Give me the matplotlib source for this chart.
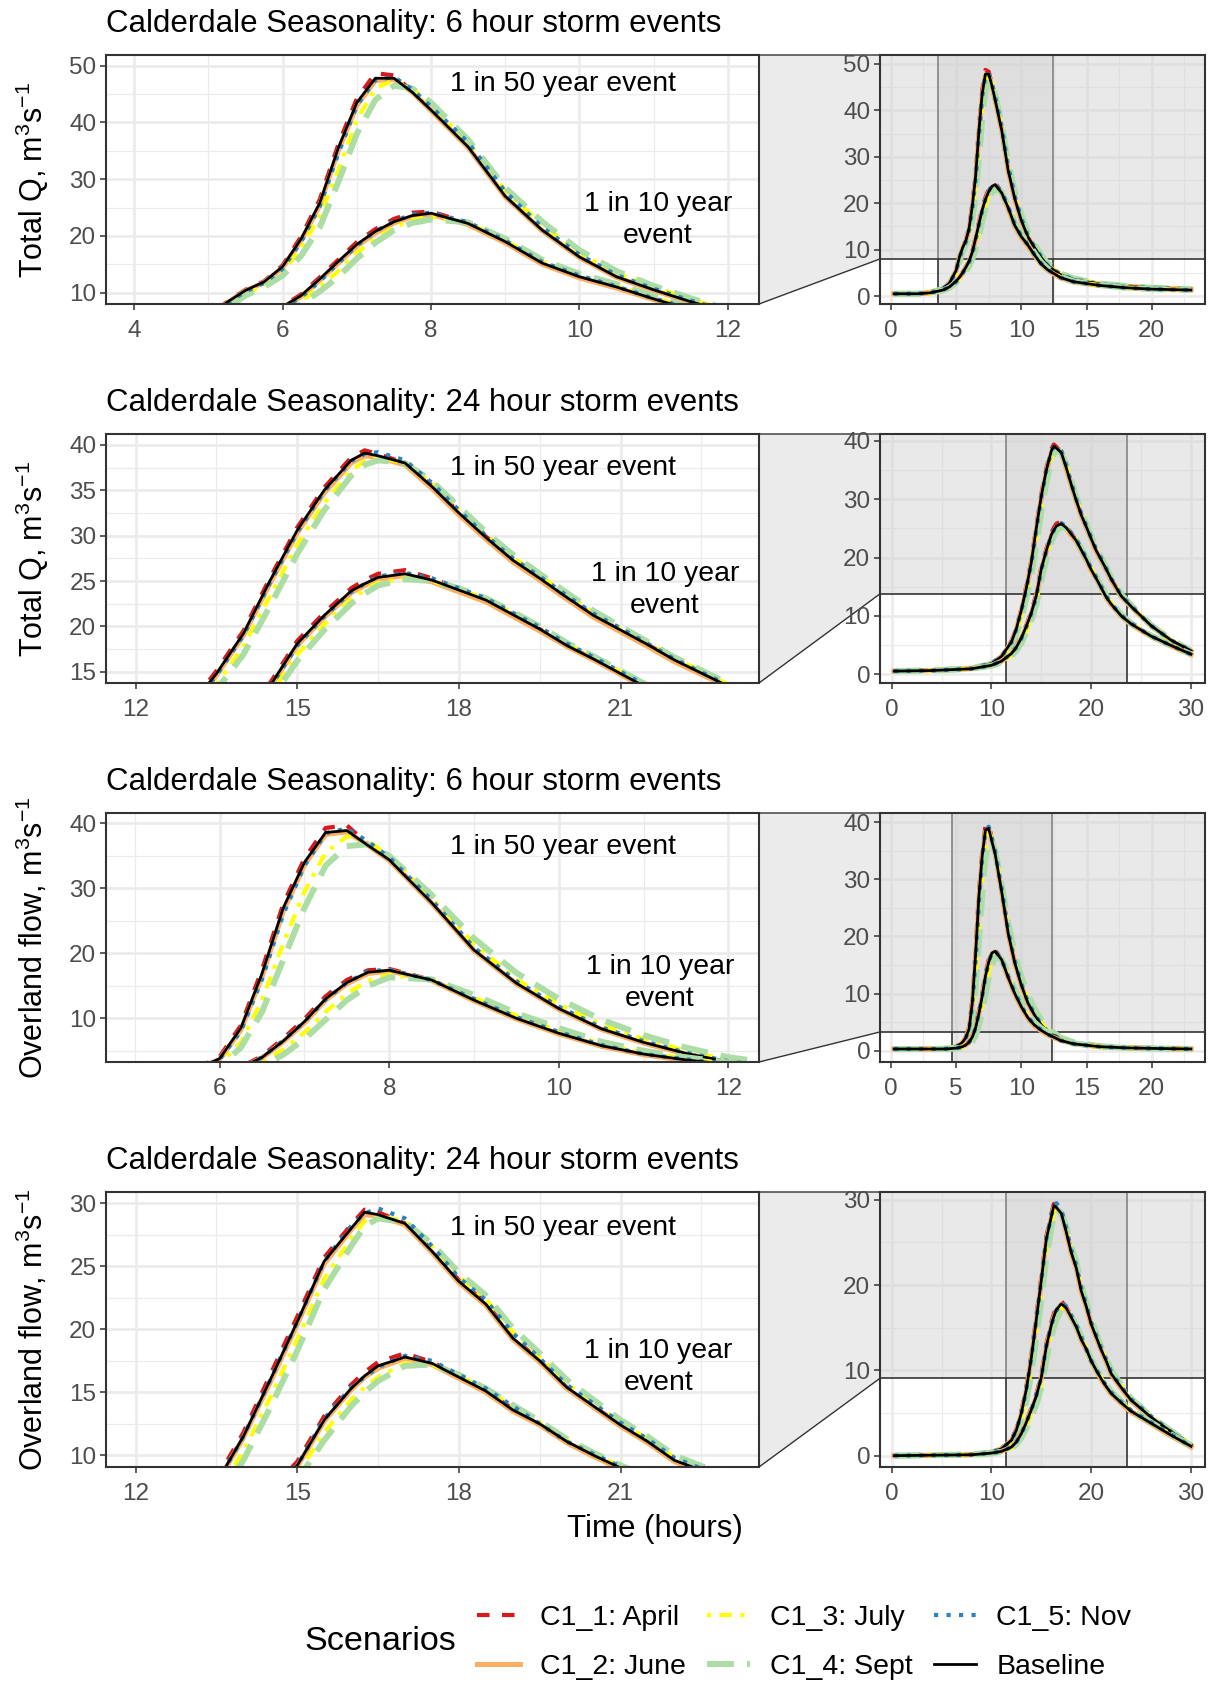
import numpy as np
import matplotlib.pyplot as plt
from matplotlib.lines import Line2D
from matplotlib.patches import Polygon
from matplotlib.ticker import MultipleLocator
from matplotlib.transforms import blended_transform_factory

plt.rcParams['font.family'] = ['Liberation Sans', 'DejaVu Sans']
plt.rcParams['mathtext.fontset'] = 'custom'
plt.rcParams['mathtext.rm'] = 'Liberation Sans'
plt.rcParams['mathtext.it'] = 'Liberation Sans:italic'
plt.rcParams['mathtext.bf'] = 'Liberation Sans:bold'

W, H = 1213, 1682

scenarios = ["C1_1: April", "C1_2: June", "C1_3: July", "C1_4: Sept", "C1_5: Nov", "Baseline"]

# time (hours) of the model output used for each storm length
t6 = [0.25, 2, 3, 4, 4.5, 5, 5.25, 5.5, 5.75, 6, 6.25, 6.5, 6.75, 7, 7.25, 7.5,
      7.75, 8, 8.5, 9, 9.5, 10, 10.5, 11, 11.5, 12, 13, 14, 16, 18, 20, 23]
t24 = [0.25, 4, 8, 10, 11, 12, 12.5, 13, 13.5, 14, 14.5, 15, 15.5, 16, 16.25, 16.5,
       17, 17.5, 18, 18.5, 19, 19.5, 20, 20.5, 21, 21.5, 22, 23, 24, 26, 28, 30]

# Total Q, 6 hour storm, 1 in 50 year
totq6_50 = {
    "C1_1: April": [0.5, 0.5, 0.8, 1.6, 2.9, 5.6, 8.4, 10.5, 12.0, 14.8, 19.9, 26.4, 36.1, 44.2, 48.7, 48.3, 45.5, 42.1, 35.6, 26.9, 20.9, 16.2, 12.7, 10.4, 8.3, 6.5, 4.5, 3.5, 2.6, 2.1, 1.8, 1.5],
    "C1_2: June": [0.5, 0.5, 0.8, 1.6, 2.8, 5.4, 8.2, 10.3, 11.8, 14.4, 19.2, 25.4, 35.0, 43.0, 47.4, 47.6, 45.3, 42.1, 35.6, 26.9, 20.9, 16.2, 12.7, 10.4, 8.3, 6.5, 4.6, 3.6, 2.6, 2.1, 1.8, 1.5],
    "C1_3: July": [0.5, 0.5, 0.8, 1.5, 2.6, 5.0, 7.6, 9.8, 11.3, 13.6, 17.8, 23.5, 31.5, 40.5, 46.0, 47.5, 46.0, 43.0, 36.5, 28.0, 22.0, 17.0, 13.5, 11.0, 8.8, 6.9, 4.8, 3.7, 2.7, 2.1, 1.8, 1.5],
    "C1_4: Sept": [0.5, 0.5, 0.8, 1.5, 2.5, 4.8, 7.3, 9.5, 11.0, 13.0, 16.5, 21.5, 29.5, 38.0, 44.0, 46.5, 46.0, 43.5, 37.0, 28.5, 22.5, 17.5, 13.8, 11.2, 9.0, 7.1, 4.9, 3.8, 2.7, 2.2, 1.8, 1.5],
    "C1_5: Nov": [0.5, 0.5, 0.8, 1.6, 2.7, 5.3, 8.1, 10.2, 11.7, 14.2, 19.0, 25.2, 34.5, 43.0, 47.5, 48.0, 45.8, 42.8, 36.5, 27.8, 21.5, 16.7, 13.1, 10.7, 8.6, 6.7, 4.7, 3.6, 2.6, 2.1, 1.8, 1.5],
    "Baseline": [0.5, 0.5, 0.8, 1.6, 2.8, 5.5, 8.3, 10.4, 11.9, 14.6, 19.5, 25.8, 35.5, 43.5, 47.8, 47.8, 45.3, 42.2, 35.7, 27.0, 21.0, 16.3, 12.8, 10.5, 8.4, 6.6, 4.6, 3.6, 2.6, 2.1, 1.8, 1.5],
}
# Total Q, 6 hour storm, 1 in 10 year
totq6_10 = {
    "C1_1: April": [0.5, 0.5, 0.7, 1.3, 2.0, 3.2, 4.1, 5.1, 6.3, 7.6, 9.7, 12.7, 15.8, 18.9, 21.2, 23.0, 24.1, 24.3, 22.3, 18.9, 15.1, 12.7, 10.9, 8.8, 7.0, 5.7, 4.0, 3.1, 2.3, 1.8, 1.5, 1.3],
    "C1_2: June": [0.5, 0.5, 0.7, 1.3, 2.0, 3.1, 3.9, 4.9, 6.1, 7.4, 9.3, 12.2, 15.2, 18.2, 20.5, 22.3, 23.4, 23.8, 22.0, 18.8, 15.0, 12.6, 10.8, 8.8, 6.9, 5.6, 3.9, 3.0, 2.3, 1.8, 1.5, 1.3],
    "C1_3: July": [0.5, 0.5, 0.7, 1.2, 1.9, 3.0, 3.7, 4.6, 5.6, 6.8, 8.5, 11.0, 13.8, 17.0, 19.5, 21.5, 22.8, 23.4, 22.3, 19.2, 15.5, 13.0, 11.2, 9.1, 7.2, 5.8, 4.1, 3.1, 2.3, 1.8, 1.5, 1.3],
    "C1_4: Sept": [0.5, 0.5, 0.7, 1.2, 1.8, 2.9, 3.6, 4.4, 5.3, 6.4, 8.0, 10.2, 12.8, 16.0, 18.8, 21.0, 22.3, 22.9, 22.4, 19.5, 15.8, 13.3, 11.5, 9.4, 7.4, 6.0, 4.2, 3.2, 2.4, 1.8, 1.5, 1.3],
    "C1_5: Nov": [0.5, 0.5, 0.7, 1.3, 2.0, 3.1, 3.9, 4.9, 6.0, 7.3, 9.2, 12.0, 15.2, 18.3, 20.8, 22.6, 23.8, 24.1, 22.4, 19.2, 15.4, 13.0, 11.1, 9.0, 7.1, 5.8, 4.0, 3.1, 2.3, 1.8, 1.5, 1.3],
    "Baseline": [0.5, 0.5, 0.7, 1.3, 2.0, 3.2, 4.0, 5.0, 6.2, 7.5, 9.5, 12.4, 15.5, 18.5, 20.8, 22.5, 23.6, 24.0, 22.2, 19.0, 15.2, 12.8, 11.0, 8.9, 7.0, 5.7, 4.0, 3.1, 2.3, 1.8, 1.5, 1.3],
}
# Total Q, 24 hour storm, 1 in 50 year
totq24_50 = {
    "C1_1: April": [0.5, 0.6, 1.0, 1.8, 3.0, 5.6, 7.9, 11.2, 15.1, 19.5, 25.4, 30.9, 35.3, 38.6, 39.4, 39.0, 38.0, 35.5, 32.6, 29.9, 27.4, 25.3, 23.2, 21.2, 19.6, 18.0, 16.3, 13.4, 11.6, 8.3, 5.8, 4.0],
    "C1_2: June": [0.5, 0.6, 1.0, 1.8, 3.0, 5.4, 7.7, 10.9, 14.6, 19.0, 24.8, 30.3, 34.7, 38.0, 38.8, 38.6, 37.8, 35.2, 32.3, 29.6, 27.1, 25.1, 23.0, 21.0, 19.4, 17.8, 16.1, 13.3, 11.5, 8.2, 5.7, 3.9],
    "C1_3: July": [0.5, 0.6, 1.0, 1.7, 2.8, 5.0, 7.1, 10.1, 13.6, 17.8, 23.4, 29.0, 33.6, 37.2, 38.2, 38.6, 38.0, 35.8, 32.9, 30.1, 27.6, 25.6, 23.5, 21.5, 19.8, 18.2, 16.5, 13.6, 11.7, 8.3, 5.8, 4.1],
    "C1_4: Sept": [0.5, 0.6, 1.0, 1.7, 2.7, 4.8, 6.8, 9.6, 13.0, 16.9, 22.3, 28.0, 32.8, 36.6, 37.8, 38.3, 38.0, 36.0, 33.2, 30.4, 27.9, 25.8, 23.7, 21.7, 20.0, 18.3, 16.6, 13.7, 11.8, 8.4, 5.9, 4.0],
    "C1_5: Nov": [0.5, 0.6, 1.0, 1.8, 3.0, 5.4, 7.7, 10.9, 14.6, 19.0, 24.9, 30.4, 34.9, 38.2, 39.0, 39.2, 38.3, 35.8, 32.8, 30.0, 27.5, 25.5, 23.4, 21.4, 19.8, 18.1, 16.4, 13.5, 11.7, 8.3, 5.8, 4.0],
    "Baseline": [0.5, 0.6, 1.0, 1.8, 3.0, 5.5, 7.8, 11.0, 14.8, 19.2, 25.1, 30.6, 35.0, 38.3, 39.1, 38.8, 38.0, 35.4, 32.5, 29.8, 27.3, 25.3, 23.2, 21.2, 19.6, 18.0, 16.3, 13.4, 11.6, 8.3, 5.8, 4.0],
}
# Total Q, 24 hour storm, 1 in 10 year
totq24_10 = {
    "C1_1: April": [0.5, 0.6, 0.9, 1.5, 2.2, 3.6, 4.7, 6.4, 8.4, 10.7, 13.8, 18.4, 21.5, 24.2, 25.1, 25.8, 26.2, 25.3, 24.1, 22.9, 21.3, 19.7, 17.9, 16.4, 14.8, 13.2, 12.0, 10.0, 8.6, 6.5, 4.9, 3.4],
    "C1_2: June": [0.5, 0.6, 0.9, 1.5, 2.2, 3.5, 4.6, 6.1, 8.1, 10.4, 13.3, 17.9, 21.0, 23.7, 24.5, 25.2, 25.6, 24.9, 23.8, 22.7, 21.1, 19.5, 17.8, 16.3, 14.7, 13.1, 11.9, 9.9, 8.5, 6.4, 4.8, 3.3],
    "C1_3: July": [0.5, 0.6, 0.9, 1.4, 2.1, 3.2, 4.2, 5.6, 7.5, 9.7, 12.5, 16.9, 20.2, 23.0, 24.0, 24.8, 25.3, 25.0, 24.1, 23.0, 21.5, 19.9, 18.1, 16.6, 15.0, 13.4, 12.2, 10.1, 8.7, 6.5, 4.9, 3.5],
    "C1_4: Sept": [0.5, 0.6, 0.9, 1.4, 2.0, 3.1, 4.0, 5.3, 7.1, 9.2, 11.9, 16.2, 19.6, 22.5, 23.6, 24.5, 25.2, 25.0, 24.2, 23.1, 21.6, 20.0, 18.2, 16.7, 15.1, 13.5, 12.3, 10.2, 8.7, 6.6, 4.9, 3.4],
    "C1_5: Nov": [0.5, 0.6, 0.9, 1.5, 2.2, 3.5, 4.6, 6.1, 8.1, 10.4, 13.3, 17.9, 21.1, 23.8, 24.7, 25.5, 25.9, 25.3, 24.2, 23.1, 21.5, 19.9, 18.1, 16.6, 15.0, 13.4, 12.1, 10.1, 8.7, 6.5, 4.9, 3.4],
    "Baseline": [0.5, 0.6, 0.9, 1.5, 2.2, 3.5, 4.6, 6.2, 8.2, 10.5, 13.5, 18.1, 21.2, 23.9, 24.7, 25.4, 25.8, 25.1, 24.0, 22.9, 21.3, 19.7, 17.9, 16.4, 14.8, 13.2, 12.0, 10.0, 8.6, 6.5, 4.9, 3.4],
}
# Overland flow, 6 hour storm, 1 in 50 year
ovl6_50 = {
    "C1_1: April": [0.3, 0.3, 0.3, 0.35, 0.45, 0.7, 1.0, 1.5, 2.4, 4.1, 8.9, 17.5, 27.6, 34.6, 39.3, 39.7, 36.8, 34.5, 27.8, 20.4, 15.3, 11.4, 8.3, 6.2, 4.5, 3.3, 2.0, 1.3, 0.7, 0.5, 0.4, 0.3],
    "C1_2: June": [0.3, 0.3, 0.3, 0.35, 0.45, 0.7, 1.0, 1.45, 2.25, 3.7, 8.2, 16.4, 26.5, 33.6, 38.3, 38.7, 36.6, 34.3, 27.7, 20.4, 15.3, 11.4, 8.3, 6.2, 4.5, 3.2, 1.9, 1.3, 0.7, 0.5, 0.4, 0.3],
    "C1_3: July": [0.3, 0.3, 0.3, 0.35, 0.4, 0.6, 0.9, 1.3, 1.9, 3.0, 6.3, 12.8, 21.5, 29.5, 35.5, 38.0, 37.3, 35.0, 28.5, 21.5, 16.0, 12.2, 9.0, 6.8, 5.0, 3.6, 2.1, 1.4, 0.7, 0.5, 0.4, 0.3],
    "C1_4: Sept": [0.3, 0.3, 0.3, 0.35, 0.4, 0.6, 0.8, 1.2, 1.7, 2.6, 5.5, 11.0, 19.0, 27.0, 33.5, 36.5, 36.8, 35.0, 29.0, 22.3, 17.0, 13.0, 9.8, 7.4, 5.5, 4.0, 2.3, 1.5, 0.8, 0.5, 0.4, 0.3],
    "C1_5: Nov": [0.3, 0.3, 0.3, 0.35, 0.45, 0.7, 1.0, 1.5, 2.3, 3.7, 8.0, 16.0, 26.0, 33.5, 38.5, 39.2, 37.2, 34.8, 28.2, 20.9, 15.7, 11.8, 8.6, 6.5, 4.7, 3.4, 2.0, 1.3, 0.7, 0.5, 0.4, 0.3],
    "Baseline": [0.3, 0.3, 0.3, 0.35, 0.45, 0.7, 1.0, 1.5, 2.3, 3.8, 8.5, 16.9, 27.0, 34.0, 38.6, 38.9, 36.6, 34.4, 27.8, 20.5, 15.4, 11.5, 8.4, 6.3, 4.6, 3.3, 2.0, 1.3, 0.7, 0.5, 0.4, 0.3],
}
# Overland flow, 6 hour storm, 1 in 10 year
ovl6_10 = {
    "C1_1: April": [0.3, 0.3, 0.3, 0.3, 0.35, 0.45, 0.55, 0.7, 1.05, 1.55, 2.5, 4.2, 6.9, 9.9, 13.4, 15.9, 17.4, 17.6, 15.9, 12.8, 10.0, 7.7, 5.7, 4.4, 3.6, 2.9, 1.8, 1.2, 0.7, 0.5, 0.4, 0.3],
    "C1_2: June": [0.3, 0.3, 0.3, 0.3, 0.35, 0.45, 0.55, 0.7, 1.0, 1.45, 2.35, 3.9, 6.4, 9.3, 12.8, 15.3, 16.9, 17.3, 15.8, 12.7, 9.9, 7.6, 5.7, 4.4, 3.5, 2.8, 1.8, 1.2, 0.7, 0.5, 0.4, 0.3],
    "C1_3: July": [0.3, 0.3, 0.3, 0.3, 0.3, 0.4, 0.5, 0.6, 0.85, 1.2, 1.9, 3.1, 5.2, 7.8, 11.0, 13.8, 15.8, 16.7, 15.9, 13.2, 10.4, 8.1, 6.1, 4.7, 3.8, 3.0, 1.9, 1.2, 0.7, 0.5, 0.4, 0.3],
    "C1_4: Sept": [0.3, 0.3, 0.3, 0.3, 0.3, 0.4, 0.45, 0.55, 0.75, 1.0, 1.6, 2.6, 4.4, 6.8, 9.8, 12.8, 15.0, 16.3, 16.0, 13.6, 10.8, 8.5, 6.4, 5.0, 4.0, 3.2, 2.0, 1.3, 0.7, 0.5, 0.4, 0.3],
    "C1_5: Nov": [0.3, 0.3, 0.3, 0.3, 0.35, 0.45, 0.55, 0.7, 1.0, 1.5, 2.4, 4.0, 6.6, 9.5, 12.9, 15.5, 17.2, 17.5, 15.9, 13.0, 10.2, 7.9, 5.9, 4.5, 3.7, 2.9, 1.8, 1.2, 0.7, 0.5, 0.4, 0.3],
    "Baseline": [0.3, 0.3, 0.3, 0.3, 0.35, 0.45, 0.55, 0.7, 1.0, 1.5, 2.4, 4.0, 6.5, 9.5, 13.0, 15.5, 17.1, 17.4, 15.9, 12.8, 10.0, 7.7, 5.8, 4.5, 3.6, 2.9, 1.8, 1.2, 0.7, 0.5, 0.4, 0.3],
}
# Overland flow, 24 hour storm, 1 in 50 year
ovl24_50 = {
    "C1_1: April": [0.0, 0.05, 0.15, 0.4, 0.85, 1.9, 3.1, 5.2, 8.1, 11.8, 16.4, 21.0, 25.7, 28.3, 29.5, 29.3, 28.4, 26.3, 23.9, 22.1, 19.4, 17.5, 15.4, 13.9, 12.4, 11.1, 9.6, 7.9, 6.4, 4.4, 2.7, 1.2],
    "C1_2: June": [0.0, 0.05, 0.15, 0.4, 0.8, 1.8, 2.9, 4.9, 7.7, 11.4, 15.8, 20.4, 25.2, 27.9, 29.1, 29.0, 28.3, 26.1, 23.7, 21.9, 19.2, 17.4, 15.3, 13.8, 12.3, 11.0, 9.5, 7.9, 6.4, 4.4, 2.7, 1.2],
    "C1_3: July": [0.0, 0.05, 0.15, 0.35, 0.7, 1.5, 2.6, 4.4, 6.9, 10.3, 14.6, 19.2, 24.0, 27.2, 28.6, 29.0, 28.6, 26.6, 24.2, 22.4, 19.8, 17.8, 15.7, 14.1, 12.6, 11.3, 9.8, 8.2, 6.6, 4.6, 2.8, 1.4],
    "C1_4: Sept": [0.0, 0.05, 0.15, 0.35, 0.7, 1.4, 2.4, 4.1, 6.4, 9.6, 13.8, 18.3, 23.2, 26.6, 28.2, 28.8, 28.5, 26.8, 24.5, 22.7, 20.1, 18.1, 16.0, 14.4, 12.8, 11.5, 10.0, 8.3, 6.7, 4.6, 2.9, 1.3],
    "C1_5: Nov": [0.0, 0.05, 0.15, 0.4, 0.8, 1.8, 3.0, 5.0, 7.8, 11.5, 16.0, 20.6, 25.4, 28.2, 29.2, 29.6, 28.8, 26.6, 24.1, 22.3, 19.7, 17.7, 15.6, 14.1, 12.6, 11.3, 9.8, 8.1, 6.6, 4.6, 2.8, 1.3],
    "Baseline": [0.0, 0.05, 0.15, 0.4, 0.8, 1.8, 3.0, 5.0, 7.8, 11.5, 16.0, 20.6, 25.4, 28.0, 29.3, 29.1, 28.4, 26.2, 23.8, 22.0, 19.3, 17.5, 15.4, 13.9, 12.4, 11.1, 9.6, 8.0, 6.5, 4.5, 2.8, 1.3],
}
# Overland flow, 24 hour storm, 1 in 10 year
ovl24_10 = {
    "C1_1: April": [0.0, 0.05, 0.1, 0.3, 0.5, 1.0, 1.7, 2.7, 4.0, 5.6, 7.2, 9.5, 13.1, 15.6, 16.6, 17.4, 18.1, 17.4, 16.3, 15.1, 13.7, 12.4, 11.0, 10.0, 9.0, 8.1, 7.3, 6.2, 5.2, 3.8, 2.4, 1.1],
    "C1_2: June": [0.0, 0.05, 0.1, 0.3, 0.5, 1.0, 1.6, 2.6, 3.9, 5.3, 6.9, 9.1, 12.7, 15.2, 16.2, 16.9, 17.7, 17.2, 16.1, 15.0, 13.5, 12.4, 11.0, 9.9, 8.9, 8.0, 7.2, 6.1, 5.1, 3.7, 2.3, 1.0],
    "C1_3: July": [0.0, 0.05, 0.1, 0.25, 0.45, 0.9, 1.4, 2.3, 3.5, 4.9, 6.4, 8.5, 11.8, 14.4, 15.4, 16.2, 17.3, 17.2, 16.3, 15.2, 13.9, 12.6, 11.2, 10.1, 9.1, 8.2, 7.4, 6.3, 5.3, 3.9, 2.5, 1.1],
    "C1_4: Sept": [0.0, 0.05, 0.1, 0.25, 0.45, 0.85, 1.3, 2.1, 3.2, 4.5, 6.0, 8.0, 11.2, 13.9, 15.0, 15.9, 17.1, 17.2, 16.4, 15.3, 14.0, 12.7, 11.3, 10.2, 9.2, 8.3, 7.5, 6.4, 5.3, 3.9, 2.5, 1.2],
    "C1_5: Nov": [0.0, 0.05, 0.1, 0.3, 0.5, 1.0, 1.6, 2.6, 3.9, 5.4, 7.1, 9.2, 12.9, 15.4, 16.2, 17.0, 17.9, 17.5, 16.4, 15.3, 13.9, 12.5, 11.1, 10.1, 9.1, 8.2, 7.4, 6.3, 5.3, 3.9, 2.5, 1.1],
    "Baseline": [0.0, 0.05, 0.1, 0.3, 0.5, 1.0, 1.6, 2.6, 3.9, 5.4, 7.0, 9.2, 12.8, 15.3, 16.3, 17.1, 17.8, 17.3, 16.2, 15.1, 13.6, 12.5, 11.1, 10.0, 9.0, 8.1, 7.3, 6.2, 5.2, 3.8, 2.4, 1.1],
}

styles = {
    "C1_1: April": dict(color='#D7191C', lw=3.0, dashes=(3, 3)),
    "C1_2: June": dict(color='#FDAE61', lw=3.6, linestyle='-'),
    "C1_3: July": dict(color='#FFFF00', lw=3.0, dashes=(1, 2, 3, 2)),
    "C1_4: Sept": dict(color='#ABDDA4', lw=4.3, dashes=(4.5, 2.2)),
    "C1_5: Nov": dict(color='#2B83BA', lw=3.0, dashes=(1, 2)),
    "Baseline": dict(color='black', lw=2.0, linestyle='-'),
}

ylab_q = r"Total Q, m$^{3}$s$^{-1}$"
ylab_o = r"Overland flow, m$^{3}$s$^{-1}$"
panels = [
    dict(title="Calderdale Seasonality: 6 hour storm events", ylabel=ylab_q, t=t6,
         q50=totq6_50, q10=totq6_10, top=55, bot=304,
         xlim=(3.62, 12.42), ylim=(8.0, 51.9), xstep=2, ystep=10,
         ovx=(-0.83, 24.08), ovy=(-1.7, 51.9), ovxstep=5,
         lab50=(9.78, 46.8), lab10=(11.06, 22.8)),
    dict(title="Calderdale Seasonality: 24 hour storm events", ylabel=ylab_q, t=t24,
         q50=totq24_50, q10=totq24_10, top=434, bot=683,
         xlim=(11.45, 23.57), ylim=(13.76, 41.2), xstep=3, ystep=5,
         ovx=(-1.17, 31.4), ovy=(-1.54, 41.2), ovxstep=10,
         lab50=(19.93, 37.5), lab10=(21.82, 24.0)),
    dict(title="Calderdale Seasonality: 6 hour storm events", ylabel=ylab_o, t=t6,
         q50=ovl6_50, q10=ovl6_10, top=813, bot=1062,
         xlim=(4.66, 12.36), ylim=(3.28, 41.6), xstep=2, ystep=10,
         ovx=(-0.83, 24.08), ovy=(-1.98, 41.6), ovxstep=5,
         lab50=(10.05, 36.4), lab10=(11.19, 15.4)),
    dict(title="Calderdale Seasonality: 24 hour storm events", ylabel=ylab_o, t=t24,
         q50=ovl24_50, q10=ovl24_10, top=1192, bot=1467,
         xlim=(11.45, 23.57), ylim=(9.07, 30.9), xstep=3, ystep=5,
         ovx=(-1.17, 31.4), ovy=(-1.33, 30.9), ovxstep=10,
         lab50=(19.93, 28.04), lab10=(21.7, 16.98)),
]

GRID = '#EBEBEB'
BORDER = '#333333'


def rect(l, t, r, b):
    return [l / W, 1 - b / H, (r - l) / W, (b - t) / H]


def style_axes(ax, xstep, ystep):
    ax.xaxis.set_major_locator(MultipleLocator(xstep))
    ax.xaxis.set_minor_locator(MultipleLocator(xstep / 2))
    ax.yaxis.set_major_locator(MultipleLocator(ystep))
    ax.yaxis.set_minor_locator(MultipleLocator(ystep / 2))
    ax.set_axisbelow(True)
    ax.grid(which='major', color=GRID, lw=1.9)
    ax.grid(which='minor', color=GRID, lw=0.9)
    ax.tick_params(which='major', length=4, width=1.1, color=BORDER,
                   labelsize=17.5, labelcolor='#4D4D4D', pad=3)
    ax.tick_params(axis='x', which='major', pad=7.5)
    ax.tick_params(which='minor', length=0)
    for s in ax.spines.values():
        s.set_color(BORDER)
        s.set_linewidth(1.5)


def draw_lines(ax, t, data):
    for name in scenarios:
        ax.plot(t, data[name], **styles[name], zorder=2)


fig = plt.figure(figsize=(W / 100, H / 100), dpi=100)

for p in panels:
    ax = fig.add_axes(rect(106, p['top'], 759, p['bot']))
    ov = fig.add_axes(rect(880, p['top'], 1205, p['bot']))

    for a in (ax, ov):
        draw_lines(a, p['t'], p['q50'])
        draw_lines(a, p['t'], p['q10'])

    ax.set_xlim(*p['xlim'])
    ax.set_ylim(*p['ylim'])
    style_axes(ax, p['xstep'], p['ystep'])

    ov.set_xlim(*p['ovx'])
    ov.set_ylim(*p['ovy'])
    style_axes(ov, p['ovxstep'], 10)

    # zoom area shown in the overview panel
    x0, x1 = p['xlim']
    y0, y1 = p['ylim']
    ov.axvspan(x0, x1, fc='#D4D4D4', alpha=0.5, ec='none', zorder=0.7)
    ov.axvline(x0, color=BORDER, lw=1.2, zorder=0.75)
    ov.axvline(x1, color=BORDER, lw=1.2, zorder=0.75)
    ov.axhspan(y0, y1, fc='#D4D4D4', alpha=0.5, ec='none', zorder=0.8)
    ov.axhline(y0, color=BORDER, lw=1.2, zorder=0.85)

    # connector between zoomed panel and overview
    inv = fig.transFigure.inverted()
    bt = blended_transform_factory(ov.transAxes, ov.transData)
    pts = [ax.transAxes.transform((1, 1)), bt.transform((0, y1)),
           bt.transform((0, y0)), ax.transAxes.transform((1, 0))]
    pts = inv.transform(np.array(pts))
    fig.patches.append(Polygon(pts, closed=True, fc='#EBEBEB', ec=BORDER, lw=1.0,
                               transform=fig.transFigure, figure=fig, zorder=-1))

    ax.text(*p['lab50'], "1 in 50 year event", fontsize=20.4, ha='center', va='center')
    ax.text(*p['lab10'], "1 in 10 year\nevent", fontsize=20.4, ha='center', va='center',
            linespacing=1.3)

    fig.text(106 / W, 1 - (p['top'] - 31) / H, p['title'], fontsize=22.5,
             ha='left', va='center')
    fig.text(32 / W, 1 - (p['top'] + p['bot']) / 2 / H, p['ylabel'], fontsize=22,
             rotation=90, ha='center', va='center')

fig.text(655 / W, 1 - 1529 / H, "Time (hours)", fontsize=22.5, ha='center', va='center')

handles = [Line2D([], [], **styles[n]) for n in scenarios]
fig.legend(handles, scenarios, ncol=3, loc='upper left',
           bbox_to_anchor=(477 / W, 1 - 1605 / H), frameon=False, fontsize=20.5,
           handlelength=1.5, handletextpad=0.7, columnspacing=0.75,
           labelspacing=0.82, borderpad=0, borderaxespad=0)
fig.text(304 / W, 1 - 1641 / H, "Scenarios", fontsize=24.6, ha='left', va='center')

fig.savefig('out.png', dpi=100)
